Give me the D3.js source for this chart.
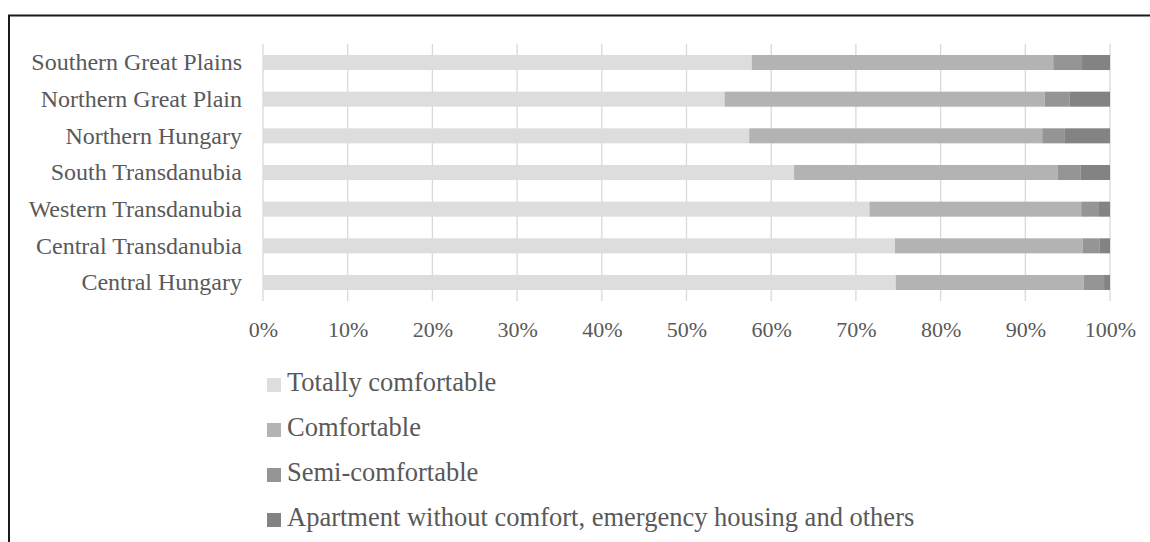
<!DOCTYPE html>
<html><head><meta charset="utf-8">
<script src="https://cdn.jsdelivr.net/npm/d3@7"></script>
<style>
html,body{margin:0;padding:0;background:#fff;}
svg{display:block;}
text{font-family:"Liberation Serif","Times New Roman",serif;fill:#595959;}
</style></head><body>
<svg id="chart" width="1150" height="542"></svg>
<script>
const categories = ["Southern Great Plains","Northern Great Plain","Northern Hungary","South Transdanubia","Western Transdanubia","Central Transdanubia","Central Hungary"];
const seriesNames = ["Totally comfortable","Comfortable","Semi-comfortable","Apartment without comfort, emergency housing and others"];
const totallyComfortable = [57.7, 54.5, 57.4, 62.7, 71.6, 74.6, 74.7];
const comfortable        = [35.6, 37.8, 34.6, 31.1, 25.0, 22.2, 22.2];
const semiComfortable    = [3.4, 2.9, 2.6, 2.7, 2.1, 2.0, 2.4];
const withoutComfort     = [3.3, 4.8, 5.4, 3.5, 1.3, 1.2, 0.7];
const colors = ["#dddddd","#b3b3b3","#959595","#838383"];
const xTicks = [0,0.1,0.2,0.3,0.4,0.5,0.6,0.7,0.8,0.9,1.0];

(function(){
const svg = d3.select("#chart");
svg.append("path").attr("d","M9,542 V15.5 H1150").attr("fill","none").attr("stroke","#1a1a1a").attr("stroke-width",2);

const mLeft = 263, mRight = 1110, mTop = 44, mBottom = 301;
const x = d3.scaleLinear().domain([0,1]).range([mLeft,mRight]);
const y = d3.scaleBand().domain(categories).range([mTop,mBottom]).paddingInner(0.59).paddingOuter(0.3);

const table = categories.map((c,i)=>{
  const vals=[totallyComfortable[i],comfortable[i],semiComfortable[i],withoutComfort[i]];
  const tot=d3.sum(vals);
  const o={cat:c}; seriesNames.forEach((s,j)=>o[s]=vals[j]/tot); return o;
});
const stack = d3.stack().keys(seriesNames)(table);

svg.append("g").selectAll("line").data(xTicks).join("line")
  .attr("x1",d=>x(d)).attr("x2",d=>x(d)).attr("y1",mTop).attr("y2",mBottom)
  .attr("stroke","#d9d9d9").attr("stroke-width",1.3);

svg.append("g").selectAll("g").data(stack).join("g").attr("fill",(d,i)=>colors[i])
  .selectAll("rect").data(d=>d).join("rect")
  .attr("x",d=>x(d[0])).attr("width",d=>x(d[1])-x(d[0]))
  .attr("y",d=>y(d.data.cat)).attr("height",y.bandwidth());

svg.append("g").selectAll("text").data(categories).join("text")
  .attr("x",242).attr("y",d=>y(d)+y.bandwidth()/2).attr("dy","0.32em")
  .attr("text-anchor","end").style("font-size","24px").text(d=>d);

const xAxis = d3.axisBottom(x).tickValues(xTicks).tickFormat(d3.format(".0%")).tickSize(0).tickPadding(0);
const gx = svg.append("g").attr("transform",`translate(0,${mBottom})`).call(xAxis);
gx.select(".domain").remove();
gx.selectAll("text").attr("y",36).attr("dy","0").style("font-size","22px").attr("fill","#595959").style("font-family","Liberation Serif, serif");

const lg = svg.append("g").selectAll("g").data(seriesNames).join("g")
  .attr("transform",(d,i)=>`translate(267,${391+i*45})`);
lg.append("rect").attr("x",0).attr("y",-13).attr("width",14).attr("height",14).attr("fill",(d,i)=>colors[i]);
lg.append("text").attr("x",20).attr("y",0).style("font-size","26.5px").text(d=>d);
})();
</script>
</body></html>
